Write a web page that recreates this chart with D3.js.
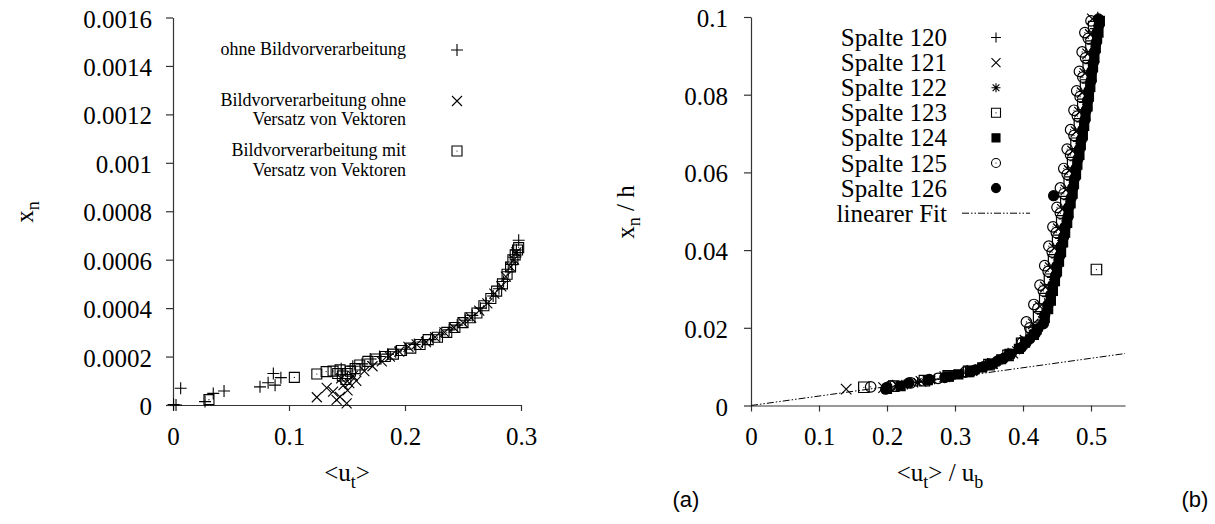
<!DOCTYPE html>
<html><head><meta charset="utf-8">
<script src="https://cdn.jsdelivr.net/npm/d3@7"></script>
<style>
body{margin:0;background:#fff}
svg{display:block}
text{font-family:"Liberation Serif","Times New Roman",serif;fill:#000}
</style>
</head><body>
<svg id="c" width="1215" height="524"></svg>
<script>
// ---------- tick labels ----------
const leftYTicks = [0,0.0002,0.0004,0.0006,0.0008,0.001,0.0012,0.0014,0.0016];
const leftYLabels = ["0","0.0002","0.0004","0.0006","0.0008","0.001","0.0012","0.0014","0.0016"];
const leftXTicks = [0,0.1,0.2,0.3];
const leftXLabels = ["0","0.1","0.2","0.3"];
const rightYTicks = [0,0.02,0.04,0.06,0.08,0.1];
const rightYLabels = ["0","0.02","0.04","0.06","0.08","0.1"];
const rightXTicks = [0,0.1,0.2,0.3,0.4,0.5];
const rightXLabels = ["0","0.1","0.2","0.3","0.4","0.5"];

// ---------- left chart series ----------
const leftNames = [["ohne Bildvorverarbeitung"],["Bildvorverarbeitung ohne","Versatz von Vektoren"],["Bildvorverarbeitung mit","Versatz von Vektoren"]];
const ohneBV = [[0.0005,0.000002],[0.0026,0.0],[0.0066,0.000069],[0.0276,0.000014],[0.0347,0.000048],[0.044,0.000058],[0.075,0.000075],[0.082,0.000092],[0.0865,0.00013],[0.088,0.000082],[0.093,0.000113],
 [0.145,0.00015],[0.155,0.00016],[0.163,0.00017],[0.17,0.00019],[0.178,0.0002],[0.185,0.00021],[0.192,0.00022],[0.2,0.00023],[0.208,0.00025],[0.215,0.00026],[0.222,0.00027],[0.23,0.00029],[0.238,0.00031],[0.245,0.00033],[0.252,0.00035],[0.258,0.00037],[0.265,0.0004],[0.27,0.00042],[0.276,0.00045],[0.281,0.00048],[0.285,0.00051],[0.289,0.00055],[0.292,0.00058],[0.294,0.00061],[0.296,0.00064],[0.298,0.00068]];
const ohneVersatz = [[0.124,0.000032],[0.1325,0.000071],[0.138,0.000055],[0.141,0.000021],[0.144,0.000034],[0.147,0.000082],[0.1497,0.000007],[0.1505,0.00006],[0.145,0.00011],[0.152,0.00009],[0.155,0.00012],[0.158,0.0001],
 [0.165,0.00014],[0.172,0.00016],[0.18,0.00018],[0.187,0.0002],[0.195,0.00022],[0.203,0.00024],[0.21,0.00025],[0.218,0.00026],[0.226,0.00028],[0.234,0.0003],[0.242,0.00032],[0.25,0.00034],[0.257,0.00036],[0.264,0.00039],[0.271,0.00042],[0.277,0.00046],[0.283,0.00049],[0.287,0.00053],[0.291,0.00057],[0.294,0.0006],[0.296,0.00063]];
const mitVersatz = [[0.031,0.000022],[0.1046,0.000114],[0.124,0.000128],[0.132,0.000138],[0.138,0.00014],[0.142,0.00013],[0.144,0.000145],[0.146,0.00012],[0.149,0.000105],[0.15,0.00013],[0.153,0.00014],[0.157,0.00015],[0.161,0.000165],[0.168,0.00018],[0.175,0.00019],[0.183,0.0002],[0.19,0.00021],[0.197,0.000225],[0.205,0.000235],[0.213,0.00025],[0.22,0.00027],[0.228,0.00028],[0.236,0.0003],[0.243,0.00032],[0.25,0.00034],[0.256,0.00036],[0.262,0.00038],[0.268,0.00041],[0.274,0.00044],[0.279,0.00047],[0.284,0.0005],[0.288,0.00054],[0.291,0.00057],[0.293,0.0006],[0.295,0.00062],[0.297,0.00064],[0.298,0.00065]];

// ---------- right chart series ----------
const rightNames = ["Spalte 120","Spalte 121","Spalte 122","Spalte 123","Spalte 124","Spalte 125","Spalte 126"];
const spalte120 = [[0.205,0.0048],[0.23,0.0055],[0.27,0.0068],[0.31,0.0083],[0.345,0.0102],[0.375,0.0127],[0.4,0.0158],[0.418,0.0195],[0.428,0.0235],[0.436,0.028],[0.443,0.033],[0.449,0.038],[0.455,0.043],[0.46,0.048],[0.466,0.053],[0.471,0.058],[0.476,0.063],[0.481,0.068],[0.486,0.073],[0.49,0.078],[0.494,0.083],[0.498,0.088],[0.502,0.093],[0.506,0.097],[0.51,0.1]];
const spalte121 = [[0.14,0.0042],[0.195,0.0046],[0.215,0.0052],[0.25,0.0062],[0.285,0.0074],[0.325,0.009],[0.355,0.0108],[0.385,0.0135],[0.403,0.0168],[0.415,0.021],[0.425,0.0255],[0.433,0.0305],[0.44,0.0355],[0.446,0.0405],[0.452,0.0455],[0.458,0.0505],[0.463,0.0555],[0.468,0.0605],[0.473,0.0655],[0.478,0.0705],[0.483,0.0755],[0.487,0.0805],[0.491,0.0855],[0.495,0.0905],[0.499,0.0955],[0.502,0.0995]];
const spalte122 = [[0.2,0.0044],[0.225,0.0053],[0.245,0.006],[0.265,0.0066],[0.3,0.0079],[0.335,0.0095],[0.365,0.0116],[0.39,0.0142],[0.412,0.0178],[0.428,0.022],[0.437,0.0265],[0.445,0.0315],[0.451,0.0365],[0.457,0.0415],[0.463,0.0465],[0.469,0.0515],[0.474,0.0565],[0.479,0.0615],[0.484,0.0665],[0.489,0.0715],[0.494,0.0765],[0.498,0.0815],[0.502,0.0865],[0.506,0.0915],[0.51,0.0965]];
const spalte123 = [[0.166,0.0047],[0.21,0.005],[0.255,0.0064],[0.29,0.0076],[0.32,0.0088],[0.35,0.0105],[0.378,0.0129],[0.398,0.016],[0.412,0.0188],[0.423,0.0228],[0.432,0.0275],[0.439,0.0325],[0.445,0.0375],[0.451,0.0425],[0.457,0.0475],[0.463,0.0525],[0.468,0.0575],[0.473,0.0625],[0.478,0.0675],[0.483,0.0725],[0.488,0.0775],[0.492,0.0825],[0.496,0.0875],[0.5,0.0925],[0.504,0.0975],[0.508,0.035]];
const spalte124 = [[0.2,0.0043],[0.22,0.005],[0.26,0.0065],[0.29,0.0075],[0.305,0.008],[0.322,0.0089],[0.34,0.0098],[0.355,0.0108],[0.368,0.0119],[0.38,0.0133],[0.394,0.0146],[0.403,0.0162],[0.416,0.0182],[0.42,0.0195],[0.432,0.0225],[0.437,0.0248],[0.441,0.027],[0.444,0.0295],[0.447,0.032],[0.45,0.0345],[0.453,0.037],[0.456,0.0395],[0.459,0.042],[0.462,0.0445],[0.465,0.047],[0.467,0.0495],[0.47,0.052],[0.473,0.0545],[0.475,0.057],[0.478,0.0595],[0.48,0.062],[0.483,0.0645],[0.485,0.067],[0.488,0.0695],[0.49,0.072],[0.492,0.0745],[0.495,0.077],[0.497,0.0795],[0.499,0.082],[0.501,0.0845],[0.503,0.087],[0.505,0.0895],[0.507,0.092],[0.509,0.0945],[0.511,0.096],[0.513,0.099]];
const spalte125 = [[0.176,0.0048],[0.205,0.005],[0.235,0.0058],[0.275,0.007],[0.315,0.0086],[0.35,0.0106],[0.38,0.0131],[0.399,0.0163],[0.405,0.0215],[0.41,0.02],[0.416,0.026],[0.422,0.025],[0.425,0.031],[0.43,0.0295],[0.432,0.036],[0.437,0.0345],[0.438,0.041],[0.443,0.0395],[0.444,0.046],[0.449,0.0445],[0.45,0.051],[0.455,0.0495],[0.455,0.056],[0.46,0.0545],[0.46,0.061],[0.465,0.0595],[0.465,0.066],[0.47,0.0645],[0.47,0.071],[0.475,0.0695],[0.475,0.076],[0.48,0.0745],[0.479,0.081],[0.484,0.0795],[0.483,0.086],[0.488,0.0845],[0.487,0.091],[0.492,0.0895],[0.491,0.096],[0.496,0.0945],[0.5,0.099]];
const spalte126 = [[0.198,0.0042],[0.2,0.0047],[0.232,0.0058],[0.262,0.0067],[0.285,0.0072],[0.322,0.0087],[0.33,0.0092],[0.342,0.01],[0.352,0.0106],[0.362,0.0114],[0.372,0.0122],[0.382,0.0132],[0.398,0.015],[0.405,0.0163],[0.41,0.0172],[0.418,0.0185],[0.422,0.0198],[0.43,0.021],[0.432,0.0232],[0.437,0.026],[0.441,0.0285],[0.444,0.031],[0.448,0.0335],[0.45,0.036],[0.454,0.0385],[0.456,0.041],[0.46,0.0435],[0.462,0.046],[0.466,0.0485],[0.467,0.051],[0.471,0.0535],[0.473,0.056],[0.476,0.0585],[0.478,0.061],[0.481,0.0635],[0.483,0.066],[0.486,0.0685],[0.488,0.071],[0.491,0.0735],[0.493,0.076],[0.495,0.0785],[0.497,0.081],[0.5,0.0835],[0.501,0.086],[0.504,0.0885],[0.505,0.091],[0.508,0.0935],[0.509,0.096],[0.511,0.0995],[0.512,0.098],[0.445,0.054]];
const fitX = [0, 0.55];
const fitY = [0, 0.01337];

// ---------- drawing ----------
const svg = d3.select("#c");
const AX = "#333";
const SERIF = '"Liberation Serif","Times New Roman",serif';

function symPath(type, s){
  const h = s/2;
  switch(type){
    case "plus": return `M${-h},0H${h}M0,${-h}V${h}`;
    case "cross": return `M${-h},${-h}L${h},${h}M${-h},${h}L${h},${-h}`;
    case "star": return `M${-h},0H${h}M0,${-h}V${h}M${-h*0.75},${-h*0.75}L${h*0.75},${h*0.75}M${-h*0.75},${h*0.75}L${h*0.75},${-h*0.75}`;
    case "square": case "fsquare": return `M${-h},${-h}H${h}V${h}H${-h}Z`;
  }
}
function drawMarker(g, type, x, y, s, sw){
  if(type==="circle"||type==="fcircle"){
    g.append("circle").attr("cx",x).attr("cy",y).attr("r",s/2)
      .attr("fill", type==="fcircle"?"#000":"none").attr("stroke","#000").attr("stroke-width",sw);
    if(type==="circle") g.append("circle").attr("cx",x).attr("cy",y).attr("r",0.6).attr("fill","#000");
    return;
  }
  g.append("path").attr("transform",`translate(${x},${y})`).attr("d",symPath(type,s))
    .attr("fill", type==="fsquare"?"#000":"none").attr("stroke","#000").attr("stroke-width",sw);
  if(type==="square") g.append("circle").attr("cx",x).attr("cy",y).attr("r",0.6).attr("fill","#000");
}

function styleAxis(g){
  g.attr("font-family",null);
  g.selectAll("path.domain").attr("stroke",AX).attr("stroke-width",1.2);
  g.selectAll(".tick line").attr("stroke",AX).attr("stroke-width",1.2);
  g.selectAll(".tick text").style("font-family",SERIF).style("font-size","25px").attr("fill","#000");
}

// ===== Left chart =====
const xL = d3.scaleLinear().domain([0,0.3]).range([173,521]);
const yL = d3.scaleLinear().domain([0,0.0016]).range([405,17.5]);

const gLy = svg.append("g").attr("transform",`translate(${xL(0)},0)`)
  .call(d3.axisLeft(yL).tickValues(leftYTicks).tickFormat((d,i)=>leftYLabels[i]).tickSize(7).tickSizeOuter(0).tickPadding(14));
styleAxis(gLy); gLy.selectAll(".tick text").attr("dy","0.38em");
const gLx = svg.append("g").attr("transform",`translate(0,${yL(0)})`)
  .call(d3.axisBottom(xL).tickValues(leftXTicks).tickFormat((d,i)=>leftXLabels[i]).tickSize(6).tickSizeOuter(0).tickPadding(16));
styleAxis(gLx);

const gL = svg.append("g");
ohneBV.forEach(d=>drawMarker(gL,"plus",xL(d[0]),yL(d[1]),12,1.1));
ohneVersatz.forEach(d=>drawMarker(gL,"cross",xL(d[0]),yL(d[1]),10,1.1));
mitVersatz.forEach(d=>drawMarker(gL,"square",xL(d[0]),yL(d[1]),10,1.1));

// left legend
const legL = svg.append("g");
const legLRows = [{y:[55],my:50,t:"plus",s:12},{y:[105.5,125],my:101,t:"cross",s:10},{y:[156,175.5],my:151,t:"square",s:10}];
legLRows.forEach((r,i)=>{
  leftNames[i].forEach((line,j)=>{
    legL.append("text").attr("x",406).attr("y",r.y[j]).attr("text-anchor","end").style("font-size","18px").text(line);
  });
  drawMarker(legL,r.t,457,r.my,r.s,1.1);
});

// left axis titles
const tL = svg.append("text").attr("transform","translate(33,212) rotate(-90)").attr("text-anchor","middle").style("font-size","25px");
tL.append("tspan").text("x");
tL.append("tspan").style("font-size","18px").attr("dy",6).text("n");
const xtL = svg.append("text").attr("x",347).attr("y",481).attr("text-anchor","middle").style("font-size","25px");
xtL.append("tspan").text("<u");
xtL.append("tspan").style("font-size","18px").attr("dy",7).text("t");
xtL.append("tspan").attr("dy",-7).text(">");

// ===== Right chart =====
const xR = d3.scaleLinear().domain([0,0.55]).range([751,1125]);
const yR = d3.scaleLinear().domain([0,0.1]).range([405.5,17]);

const gRy = svg.append("g").attr("transform",`translate(${xR(0)},0)`)
  .call(d3.axisLeft(yR).tickValues(rightYTicks).tickFormat((d,i)=>rightYLabels[i]).tickSize(7).tickSizeOuter(0).tickPadding(16));
styleAxis(gRy); gRy.selectAll(".tick text").attr("dy","0.38em");
const gRx = svg.append("g").attr("transform",`translate(0,${yR(0)})`)
  .call(d3.axisBottom(xR).tickValues(rightXTicks).tickFormat((d,i)=>rightXLabels[i]).tickSize(6).tickSizeOuter(0).tickPadding(16));
styleAxis(gRx);

// fit line
const fitLine = d3.line().x((d,i)=>xR(fitX[i])).y((d,i)=>yR(fitY[i]));
svg.append("path").attr("d",fitLine(fitX)).attr("fill","none").attr("stroke","#000").attr("stroke-width",1)
  .attr("stroke-dasharray","7,2,1.5,2,1.5,2");

const gR = svg.append("g");
const rightSeries = [[spalte120,"plus"],[spalte121,"cross"],[spalte122,"star"],[spalte123,"square"],[spalte124,"fsquare"],[spalte125,"circle"],[spalte126,"fcircle"]];
rightSeries.forEach(([arr,t])=>{
  arr.forEach(d=>drawMarker(gR,t,xR(d[0]),yR(d[1]),t==="fsquare"?9:(t==="fcircle"?10:10.5),1.2));
});

// right legend
const legR = svg.append("g");
rightNames.forEach((n,i)=>{
  const cy = 37.5 + i*25.1;
  legR.append("text").attr("x",947).attr("y",cy+8.5).attr("text-anchor","end").style("font-size","25px").text(n);
  const t = rightSeries[i][1];
  drawMarker(legR,t,996,cy,t==="fsquare"?8:(t==="plus"?10:9),1.1);
});
const fy = 37.5 + 7*25.1;
legR.append("text").attr("x",947).attr("y",fy+8.5).attr("text-anchor","end").style("font-size","25px").text("linearer Fit");
legR.append("line").attr("x1",962).attr("x2",1030).attr("y1",fy).attr("y2",fy).attr("stroke","#000").attr("stroke-width",1)
  .attr("stroke-dasharray","7,2,1.5,2,1.5,2");

// right axis titles
const tR = svg.append("text").attr("transform","translate(634,212) rotate(-90)").attr("text-anchor","middle").style("font-size","25px");
tR.append("tspan").text("x");
tR.append("tspan").style("font-size","18px").attr("dy",6).text("n");
tR.append("tspan").attr("dy",-6).text(" / h");
const xtR = svg.append("text").attr("x",940).attr("y",481).attr("text-anchor","middle").style("font-size","25px");
xtR.append("tspan").text("<u");
xtR.append("tspan").style("font-size","18px").attr("dy",7).text("t");
xtR.append("tspan").attr("dy",-7).text("> / u");
xtR.append("tspan").style("font-size","18px").attr("dy",7).text("b");

// panel labels
svg.append("text").attr("x",686).attr("y",507).attr("text-anchor","middle").style("font-size","22px").style("font-family","'Liberation Sans', Arial, sans-serif").text("(a)");
svg.append("text").attr("x",1195).attr("y",507).attr("text-anchor","middle").style("font-size","22px").style("font-family","'Liberation Sans', Arial, sans-serif").text("(b)");
</script>
</body></html>
